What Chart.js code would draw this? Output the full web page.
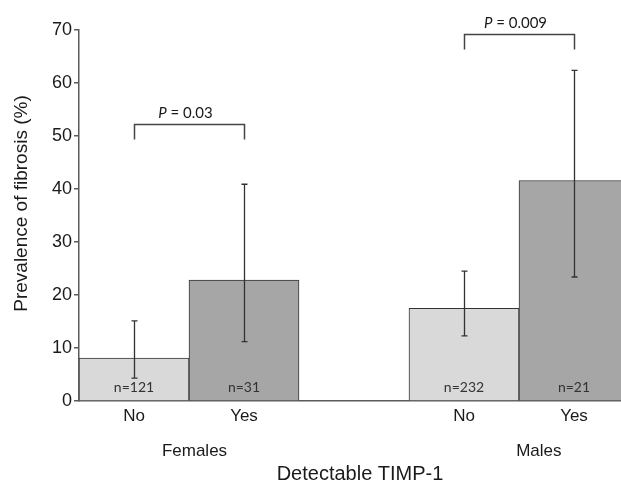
<!DOCTYPE html>
<html>
<head>
<meta charset="utf-8">
<script src="https://cdn.jsdelivr.net/npm/chart.js@4.4.0/dist/chart.umd.min.js"></script>
<style>
  html, body { margin: 0; padding: 0; background: #fff; }
  #wrap { width: 621px; height: 485px; position: relative; }
</style>
</head>
<body>
<div id="wrap"><canvas id="chart"></canvas></div>
<script>
// Prevalence of fibrosis by detectable TIMP-1, per sex
const groups = ['Females', 'Males'];
const detectable = ['No', 'Yes', 'No', 'Yes'];
const prevalence = [8.1, 22.8, 17.5, 41.6];
const ciLower = [4.3, 11.2, 12.3, 23.4];
const ciUpper = [15.1, 40.9, 24.5, 62.4];
const sampleSizes = ['n=121', 'n=31', 'n=232', 'n=21'];
const pValues = ['0.03', '0.009'];
const bracketLevels = [52.2, 69.3];
const yTicks = [0, 10, 20, 30, 40, 50, 60, 70];

const SLOT = 110; // px per bar slot
const AXIS_COLOR = '#5a5a5a';
const TEXT_COLOR = '#1a1a1a';

// bar i of group g sits in slot g*3 + k (one empty slot between groups)
const barPos = detectable.map((d, i) => Math.floor(i / 2) * 3 + (i % 2) + 0.5);

const extras = {
    id: 'extras',
    afterDatasetsDraw(chart) {
        const ctx = chart.ctx;
        const x = chart.scales.x;
        const y = chart.scales.y;
        ctx.save();

        // error bars
        ctx.strokeStyle = '#333';
        ctx.lineWidth = 1.3;
        barPos.forEach((p, i) => {
            const px = Math.round(x.getPixelForValue(p)) + 0.5;
            const top = y.getPixelForValue(ciUpper[i]);
            const bot = y.getPixelForValue(ciLower[i]);
            ctx.beginPath();
            ctx.moveTo(px, top); ctx.lineTo(px, bot);
            ctx.moveTo(px - 3, top); ctx.lineTo(px + 3, top);
            ctx.moveTo(px - 3, bot); ctx.lineTo(px + 3, bot);
            ctx.stroke();
        });

        // sample sizes inside bars
        ctx.fillStyle = '#333';
        ctx.font = '14px Lato, "Liberation Sans", sans-serif';
        ctx.textAlign = 'center';
        ctx.textBaseline = 'middle';
        barPos.forEach((p, i) => {
            ctx.fillText(sampleSizes[i], x.getPixelForValue(p), y.getPixelForValue(0) - 14);
        });

        // significance brackets
        ctx.strokeStyle = '#444';
        ctx.lineWidth = 1.5;
        groups.forEach((g, gi) => {
            const x1 = Math.round(x.getPixelForValue(barPos[gi * 2])) + 0.5;
            const x2 = Math.round(x.getPixelForValue(barPos[gi * 2 + 1])) + 0.5;
            const yb = Math.round(y.getPixelForValue(bracketLevels[gi])) + 0.5;
            ctx.beginPath();
            ctx.moveTo(x1, yb + 15); ctx.lineTo(x1, yb);
            ctx.lineTo(x2, yb); ctx.lineTo(x2, yb + 15);
            ctx.stroke();

            const italic = 'italic 15px Lato, "Liberation Sans", sans-serif';
            const normal = '15px Lato, "Liberation Sans", sans-serif';
            const rest = ' = ' + pValues[gi];
            ctx.font = italic;
            const wP = ctx.measureText('P').width;
            ctx.font = normal;
            const wR = ctx.measureText(rest).width;
            const start = (x1 + x2) / 2 - 4 - (wP + wR) / 2;
            ctx.textAlign = 'left';
            ctx.fillStyle = TEXT_COLOR;
            ctx.font = italic;
            ctx.fillText('P', start, yb - 11);
            ctx.font = normal;
            ctx.fillText(rest, start + wP, yb - 11);
        });
        ctx.restore();
    },
    afterDraw(chart) {
        const ctx = chart.ctx;
        const x = chart.scales.x;
        const area = chart.chartArea;
        ctx.save();
        ctx.fillStyle = TEXT_COLOR;
        ctx.textAlign = 'center';
        ctx.textBaseline = 'middle';

        // group labels under the No/Yes ticks
        const groupAnchor = [1.05, 4.18];
        ctx.font = '17px "Liberation Sans", Arial, sans-serif';
        groups.forEach((g, gi) => {
            ctx.fillText(g, x.getPixelForValue(groupAnchor[gi]), area.bottom + 50);
        });

        // x axis title
        ctx.font = '20px "Liberation Sans", Arial, sans-serif';
        ctx.fillText('Detectable TIMP-1', 360, area.bottom + 73);

        // y axis title
        ctx.translate(22, (area.top + area.bottom) / 2 - 12);
        ctx.rotate(-Math.PI / 2);
        ctx.font = '19px "Liberation Sans", Arial, sans-serif';
        ctx.fillText('Prevalence of fibrosis (%)', 0, 0);
        ctx.restore();
    }
};

new Chart(document.getElementById('chart'), {
    type: 'bar',
    data: {
        datasets: [{
            data: barPos.map((p, i) => ({ x: p, y: prevalence[i] })),
            backgroundColor: detectable.map(d => d === 'No' ? '#d9d9d9' : '#a6a6a6'),
            borderColor: '#333',
            borderWidth: 1,
            barThickness: SLOT
        }]
    },
    options: {
        responsive: true,
        maintainAspectRatio: false,
        animation: false,
        layout: { padding: { top: 30, left: 0, right: 0, bottom: 0 } },
        plugins: {
            legend: { display: false },
            tooltip: { enabled: false }
        },
        scales: {
            x: {
                type: 'linear',
                min: 0,
                max: 542 / SLOT,
                offset: false,
                afterBuildTicks(scale) {
                    scale.ticks = barPos.map(v => ({ value: v }));
                },
                afterFit(scale) { scale.height = 84; },
                ticks: {
                    autoSkip: false,
                    maxRotation: 0,
                    padding: -3,
                    color: TEXT_COLOR,
                    font: { family: '"Liberation Sans", Arial, sans-serif', size: 17 },
                    callback: (v, i) => detectable[i]
                },
                grid: { display: false, offset: false },
                border: { display: true, color: AXIS_COLOR, width: 1.5 }
            },
            y: {
                min: 0,
                max: 70,
                afterBuildTicks(scale) {
                    scale.ticks = yTicks.map(v => ({ value: v }));
                },
                afterFit(scale) { scale.width = 79; },
                ticks: {
                    padding: 2,
                    color: TEXT_COLOR,
                    font: { family: '"Liberation Sans", Arial, sans-serif', size: 18 }
                },
                grid: {
                    display: true,
                    drawOnChartArea: false,
                    drawTicks: true,
                    tickLength: 5,
                    color: AXIS_COLOR,
                    lineWidth: 1.5
                },
                border: { display: true, color: AXIS_COLOR, width: 1.5 }
            }
        }
    },
    plugins: [extras]
});
</script>
</body>
</html>
